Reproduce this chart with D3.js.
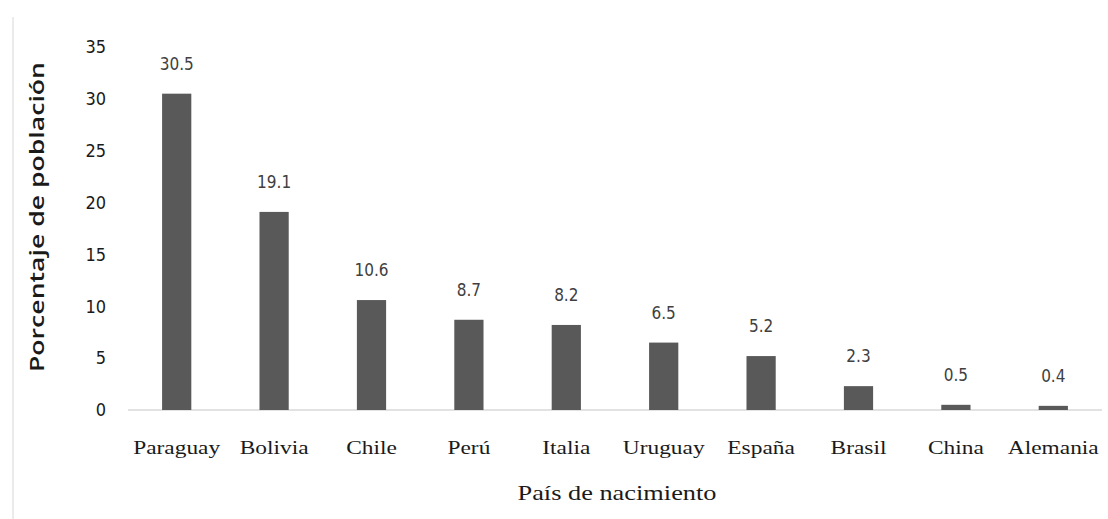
<!DOCTYPE html>
<html>
<head>
<meta charset="utf-8">
<script src="https://cdn.jsdelivr.net/npm/d3@7"></script>
<style>
  html, body { margin: 0; padding: 0; background: #fff; }
  svg { display: block; }
</style>
</head>
<body>
<svg id="chart" width="1108" height="519"></svg>
<script>
const categories = ["Paraguay", "Bolivia", "Chile", "Perú", "Italia", "Uruguay", "España", "Brasil", "China", "Alemania"];
const values = [30.5, 19.1, 10.6, 8.7, 8.2, 6.5, 5.2, 2.3, 0.5, 0.4];
const yTicks = [0, 5, 10, 15, 20, 25, 30, 35];
const yTitle = "Porcentaje de población";
const xTitle = "País de nacimiento";

const svg = d3.select("#chart");

// frame line on the left
svg.append("line")
  .attr("x1", 13).attr("x2", 13).attr("y1", 17).attr("y2", 519)
  .attr("stroke", "#e4e4e4").attr("stroke-width", 1.5);

const x = d3.scaleBand().domain(categories).range([128, 1102]).paddingInner(0.7).paddingOuter(0.35);
const y = d3.scaleLinear().domain([0, 35]).range([410, 47]);

// baseline
svg.append("line")
  .attr("x1", 128).attr("x2", 1102)
  .attr("y1", y(0)).attr("y2", y(0))
  .attr("stroke", "#d9d9d9").attr("stroke-width", 1.5);

// bars
svg.append("g").selectAll("rect").data(values).join("rect")
  .attr("x", (d, i) => x(categories[i]))
  .attr("width", x.bandwidth())
  .attr("y", d => y(d))
  .attr("height", d => y(0) - y(d))
  .attr("fill", "#595959");

// value labels
svg.append("g").selectAll("text").data(values).join("text")
  .attr("x", (d, i) => x(categories[i]) + x.bandwidth() / 2)
  .attr("y", d => y(d) - 24)
  .attr("text-anchor", "middle")
  .attr("font-family", "'Liberation Sans Narrow', 'DejaVu Sans Condensed', 'Open Sans', sans-serif")
  .attr("font-size", 17)
  .attr("fill", "#404040")
  .text(d => d.toFixed(1));

// y axis
const yAxis = svg.append("g")
  .attr("transform", "translate(128,0)")
  .call(d3.axisLeft(y).tickValues(yTicks).tickSize(0).tickPadding(22).tickFormat(d3.format("d")));
yAxis.select(".domain").remove();
yAxis.selectAll("text")
  .attr("font-family", "'Liberation Sans Narrow', 'DejaVu Sans Condensed', 'Open Sans', sans-serif")
  .attr("font-size", 18)
  .attr("fill", "#1a1a1a");

// x axis
const xAxis = svg.append("g")
  .attr("transform", `translate(0,${y(0)})`)
  .call(d3.axisBottom(x).tickSize(0).tickPadding(0));
xAxis.select(".domain").remove();
xAxis.selectAll("text")
  .attr("dy", null)
  .attr("y", 44)
  .attr("font-family", "'Liberation Serif', 'DejaVu Serif', serif")
  .attr("font-size", 18)
  .attr("fill", "#1a1a1a")
  .attr("transform", "scale(1.3,1)");

// axis titles
svg.append("text")
  .attr("transform", "translate(44,217) rotate(-90)")
  .attr("text-anchor", "middle")
  .attr("font-family", "'Open Sans', 'DejaVu Sans', sans-serif")
  .attr("font-weight", 600)
  .attr("font-size", 20)
  .attr("fill", "#1a1a1a")
  .attr("textLength", 310)
  .attr("lengthAdjust", "spacingAndGlyphs")
  .text(yTitle);

svg.append("text")
  .attr("x", 617)
  .attr("y", 500)
  .attr("text-anchor", "middle")
  .attr("font-family", "'Liberation Serif', 'DejaVu Serif', serif")
  .attr("font-size", 22)
  .attr("fill", "#1a1a1a")
  .attr("textLength", 199)
  .attr("lengthAdjust", "spacingAndGlyphs")
  .text(xTitle);
</script>
</body>
</html>
